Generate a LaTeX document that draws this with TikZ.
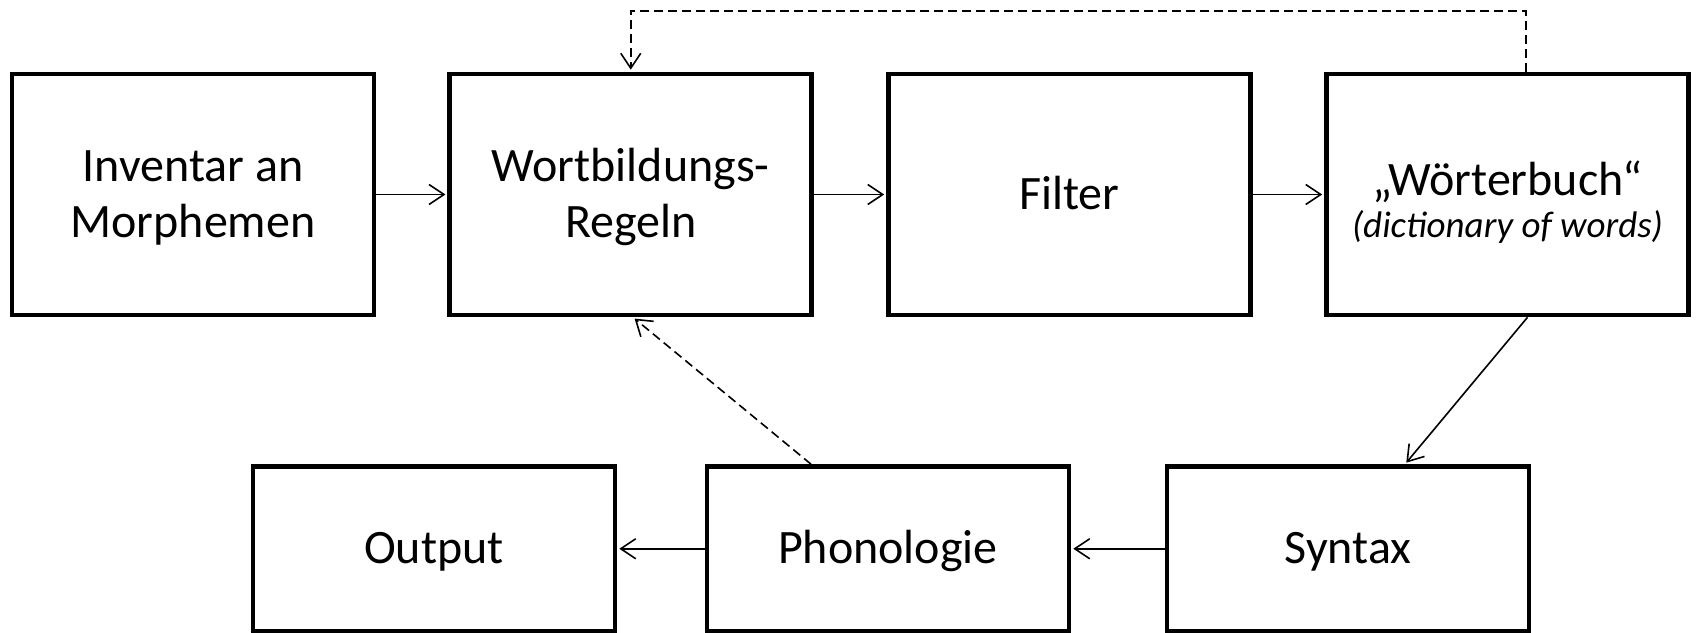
\documentclass[tikz,border=0pt]{standalone}
\usepackage{fontspec}
\setmainfont{Carlito}
\usetikzlibrary{arrows.meta}

% struts that fix the first baseline and the last depth of two-line labels
\newcommand\firstline[1]{\rule{0pt}{#1}}
\newcommand\lastline{\rule[-9pt]{0pt}{9pt}}

\begin{document}
\begin{tikzpicture}[x=1pt,y=-1pt,
  box/.style={draw, line width=4.6pt, minimum width=362pt, align=center,
    inner sep=0pt, font=\fontsize{48}{56}\selectfont},
  upper/.style={box, minimum height=241pt},
  lower/.style={box, minimum height=164.5pt},
  oneline/.style={text height=36pt, text depth=6pt},
  flow/.style={line width=1.6pt, shorten >=2pt,
    -{Straight Barb[length=15pt,width=20pt,line width=1.6pt]}},
  back/.style={flow, dash pattern=on 9pt off 5pt}]

\useasboundingbox (0,0) rectangle (1696,632);

% upper row
\node[upper] (inv)  at (193,194.5)    {\firstline{39pt}Inventar an\\Morphemen\lastline};
\node[upper] (wbr)  at (630.75,194.5) {\firstline{39pt}Wortbildungs-\\Regeln\lastline};
\node[upper, oneline] (fil) at (1069.5,194.5) {Filter};
\node[upper] (wb)   at (1507.5,194.5) {\firstline{52pt}„Wörterbuch“\\[-14pt]{\fontsize{37}{42}\selectfont\itshape (dictionary of words)}\lastline};

% lower row
\node[lower, oneline] (out) at (434,548.75)  {Output};
\node[lower, oneline] (pho) at (888,548.75)  {Phonologie};
\node[lower, oneline] (syn) at (1348,548.75) {Syntax};

% anchor points of the routed connectors
\coordinate (topR) at (1526,10.7);
\coordinate (topL) at (630.75,10.7);
\coordinate (dA) at (1527.5,0);
\coordinate (dB) at (1405,0);
\coordinate (pA) at (811,0);
\coordinate (pB) at (633,0);

% main flow
\draw[flow] (inv.east) -- (wbr.west);
\draw[flow] (wbr.east) -- (fil.west);
\draw[flow] (fil.east) -- (wb.west);
\draw[flow] (wb.south -| dA) -- (syn.north -| dB);
\draw[flow] (syn.west) -- (pho.east);
\draw[flow] (pho.west) -- (out.east);

% feedback loops
\draw[back] (wb.north -| topR) -- (topR) -- (topL) -- (wbr.north);
\draw[back] (pho.north -| pA) -- (wbr.south -| pB);
\end{tikzpicture}
\end{document}
